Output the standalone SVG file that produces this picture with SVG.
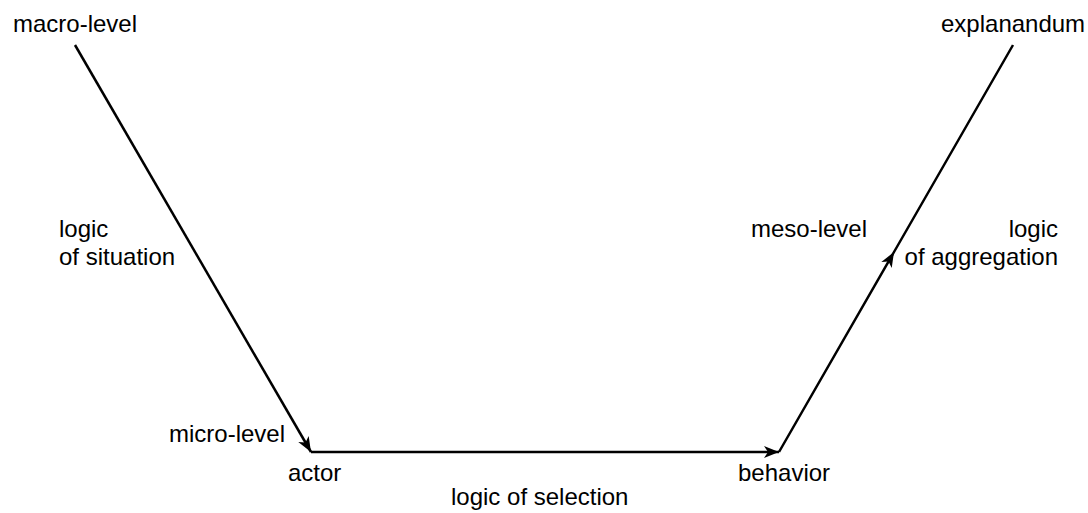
<svg xmlns="http://www.w3.org/2000/svg" width="1088" height="513" viewBox="0 0 1088 513">
  <style>
    text { font-family: "Liberation Sans", Arial, Helvetica, sans-serif; font-size: 24px; fill: #000; }
    .edge { fill: none; stroke: #000; stroke-width: 2.5; }
  </style>
  <defs>
    <marker id="arrow" markerUnits="userSpaceOnUse" markerWidth="20" markerHeight="16" viewBox="-16 -8 20 16" refX="0" refY="0" orient="auto">
      <path d="M0,0 L-15,-6 L-11,0 L-15,6 Z" fill="#000"/>
    </marker>
  </defs>
  <rect width="1088" height="513" fill="#fff"/>

  <!-- connectors -->
  <g id="connectors">
    <path class="edge" d="M75,45 L311,452" marker-end="url(#arrow)"/>
    <path class="edge" d="M311,452 L779,452" marker-end="url(#arrow)"/>
    <path class="edge" d="M779,452 L894,252 L1013,45" marker-mid="url(#arrow)"/>
  </g>

  <!-- labels -->
  <g id="macro-level"><text x="13" y="32">macro-level</text></g>
  <g id="explanandum"><text x="941" y="32">explanandum</text></g>
  <g id="logic-of-situation">
    <text x="59" y="237">logic</text>
    <text x="59" y="265">of situation</text>
  </g>
  <g id="meso-level"><text x="751" y="237">meso-level</text></g>
  <g id="logic-of-aggregation">
    <text x="1058" y="237" text-anchor="end">logic</text>
    <text x="1058" y="265" text-anchor="end">of aggregation</text>
  </g>
  <g id="micro-level"><text x="169" y="442">micro-level</text></g>
  <g id="actor"><text x="288" y="481">actor</text></g>
  <g id="behavior"><text x="738" y="481">behavior</text></g>
  <g id="logic-of-selection"><text x="451" y="505">logic of selection</text></g>
</svg>
